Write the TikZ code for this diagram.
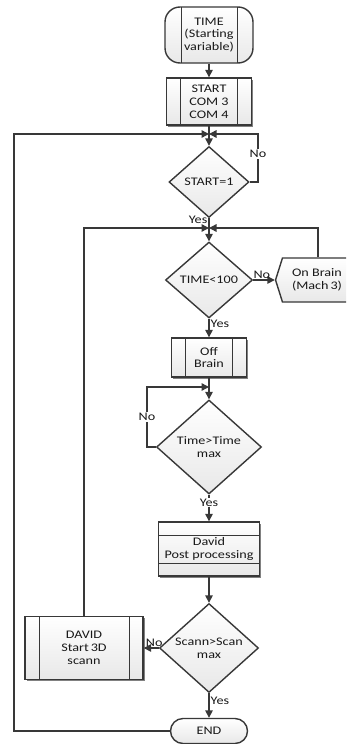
\documentclass[tikz,border=0pt]{standalone}
\usepackage{fontspec}
\setmainfont{Carlito}[FakeStretch=1.22]
\usetikzlibrary{arrows.meta,shapes.geometric,shapes.misc,shapes.symbols,shadows}

\begin{document}
\begin{tikzpicture}[->,>={Triangle[length=7.5pt,width=7.5pt]},x=1pt,y=-1pt,
                    line width=1.4pt,color=black!78,
                    font=\fontsize{11.6}{12.9}\selectfont]

  \tikzstyle{every node}=[text=black!90,align=center,inner sep=1pt]
  \tikzstyle{box}=[draw,top color=white,bottom color=black!9]
  \tikzstyle{term}=[box,rectangle,rounded corners=15pt]
  \tikzstyle{termlines}=[path picture={
      \draw[-,line width=0.8pt] ([xshift=16pt]path picture bounding box.north west)
            -- ([xshift=16pt]path picture bounding box.south west);
      \draw[-,line width=0.8pt] ([xshift=-16pt]path picture bounding box.north east)
            -- ([xshift=-16pt]path picture bounding box.south east);}]
  \tikzstyle{subproc}=[box,rectangle,
      drop shadow={shadow xshift=1.5pt,shadow yshift=-1.5pt,opacity=0.7,fill=black!70},
      path picture={
      \draw[-,line width=0.8pt] ([xshift=14pt]path picture bounding box.north west)
            -- ([xshift=14pt]path picture bounding box.south west);
      \draw[-,line width=0.8pt] ([xshift=-14pt]path picture bounding box.north east)
            -- ([xshift=-14pt]path picture bounding box.south east);}]
  \tikzstyle{datbox}=[box,rectangle,
      drop shadow={shadow xshift=1.5pt,shadow yshift=-1.5pt,opacity=0.7,fill=black!70},
      path picture={
      \draw[-,line width=0.8pt] ([yshift=-13pt]path picture bounding box.north west)
            -- ([yshift=-13pt]path picture bounding box.north east);
      \draw[-,line width=0.8pt] ([yshift=13pt]path picture bounding box.south west)
            -- ([yshift=13pt]path picture bounding box.south east);}]
  \tikzstyle{decision}=[box,diamond,inner sep=0pt]
  \tikzstyle{display}=[box,signal,signal to=west,signal pointer angle=145]
  \tikzstyle{lbl}=[fill=white,inner sep=1pt]

  \useasboundingbox (0,0) rectangle (346,744);
  \clip (0,0) rectangle (346,744);

  \node[term,termlines,minimum width=88pt,minimum height=56pt] (time) at (209,35)
        {TIME\\(Starting\\variable)};
  \node[subproc,minimum width=85pt,minimum height=47pt] (start)
        [below of=time,node distance=66.5pt] {START\\COM 3\\COM 4};
  \node[decision,minimum width=80pt,minimum height=71pt] (start1)
        [below of=start,node distance=80.5pt] {START=1};
  \node[decision,minimum width=87pt,minimum height=76pt] (time100)
        [below of=start1,node distance=98pt] {TIME<100};
  \node[display,minimum width=100pt,minimum height=44pt] (onbrain)
        [right of=time100,node distance=120pt]
        {On Brain\hspace*{24pt}\\(Mach\,3)\hspace*{24pt}};
  \node[subproc,minimum width=75pt,minimum height=39pt] (offbrain)
        [below of=time100,node distance=77.5pt] {Off\\Brain};
  \node[decision,minimum width=105pt,minimum height=94pt] (timemax)
        [below of=offbrain,node distance=89.5pt] {Time>Time\\max};
  \node[datbox,minimum width=101pt,minimum height=54pt] (post)
        [below of=timemax,node distance=102pt] {David\\Post processing};
  \node[decision,minimum width=99pt,minimum height=89pt] (scann)
        [below of=post,node distance=99pt] {Scann>Scan\\max};
  \node[subproc,minimum width=118pt,minimum height=63pt] (david)
        [left of=scann,node distance=125pt] {DAVID\\Start\,3D\\scann};
  \node[term,rounded corners=12.5pt,minimum width=77pt,minimum height=25pt] (end)
        [below of=scann,node distance=83pt] {END};

  % junctions and corners of the loops
  \coordinate[above of=start1,node distance=48pt] (j1);
  \coordinate[above of=time100,node distance=52pt] (j2);
  \coordinate[above of=timemax,node distance=60pt] (j3);
  \coordinate[right of=start1,node distance=49pt] (noA);
  \coordinate[left of=timemax,node distance=62pt] (noB);
  \coordinate[left of=end,node distance=195pt] (back);
  \coordinate[above of=time100,node distance=52pt,xshift=109pt] (upB);

  \path (time.south)     edge (start.north)
        (start.south)    edge (start1.north)
        (start1.south)   edge node[pos=0.05,left] {Yes} (time100.north)
        (time100.east)   edge node[above,pos=0.4] {No} (onbrain.west)
        (time100.south)  edge node[pos=0.25,right] {Yes} (offbrain.north)
        (offbrain.south) edge (timemax.north)
        (timemax.south)  edge node[lbl,pos=0.3] {Yes} (post.north)
        (post.south)     edge (scann.north)
        (scann.west)     edge node[above,pos=0.3] {No} (david.east)
        (scann.south)    edge node[pos=0.3,right] {Yes} (end.north);

  \draw (start1.east) -- (noA) |- node[lbl,pos=0.29] {No} (j1);
  \draw (end.west) -- (back) |- (j1);
  \draw (onbrain.north -| upB) -- (upB) -- (j2);
  \draw (david.north) |- (j2);
  \draw (timemax.west) -- (noB) |- node[lbl,pos=0.25] {No} (j3);
\end{tikzpicture}
\end{document}
